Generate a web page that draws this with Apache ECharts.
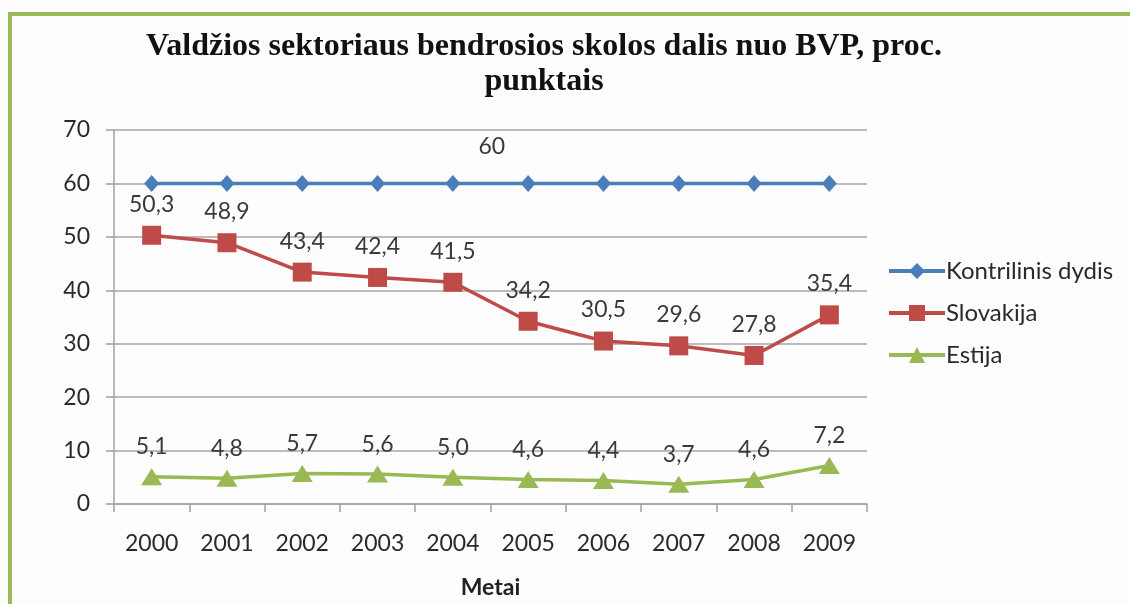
<!DOCTYPE html>
<html>
<head>
<meta charset="utf-8">
<script src="https://cdn.jsdelivr.net/npm/echarts@6/dist/echarts.min.js"></script>
<style>
html,body{margin:0;padding:0;background:#fdfdfd;}
#c{width:1130px;height:604px;}
</style>
</head>
<body>
<div id="c"></div>
<script>
const years = ['2000','2001','2002','2003','2004','2005','2006','2007','2008','2009'];
const kontrilinis = [60,60,60,60,60,60,60,60,60,60];
const slovakija = [50.3,48.9,43.4,42.4,41.5,34.2,30.5,29.6,27.8,35.4];
const estija = [5.1,4.8,5.7,5.6,5.0,4.6,4.4,3.7,4.6,7.2];
const seriesNames = ['Kontrilinis dydis','Slovakija','Estija'];
const yTicks = {min:0, max:70, interval:10};
const kontrilinisLabelIndex = 4;

const fmt = p => p.value.toFixed(1).replace('.', ',');
const F = 'Lato, "Open Sans", sans-serif';
const labelStyle = {show:true, position:'top', distance:10, fontFamily:F, fontSize:23, color:'#3a3a3a', formatter:fmt};

const chart = echarts.init(document.getElementById('c'));
chart.setOption({
  backgroundColor:'#fdfdfd',
  animation:false,
  title:{
    text:'Valdžios sektoriaus bendrosios skolos dalis nuo BVP, proc.\npunktais',
    left:544, top:29, textAlign:'center', padding:0,
    textStyle:{fontFamily:'"Liberation Serif", serif', fontWeight:'bold', fontSize:32, lineHeight:35, color:'#111'}
  },
  legend:{
    orient:'vertical', left:882, top:254, itemWidth:56, itemHeight:20, itemGap:18,
    data:seriesNames,
    lineStyle:{width:4},
    textStyle:{fontFamily:F, fontSize:24, color:'#2a2a2a', padding:[0,0,0,-4]}
  },
  grid:{left:114, right:263, top:130, bottom:100, containLabel:false, outerBoundsMode:'none'},
  xAxis:{
    type:'category', data:years, boundaryGap:true,
    name:'Metai', nameLocation:'middle', nameGap:72,
    nameTextStyle:{fontFamily:F, fontSize:23, fontWeight:'bold', color:'#222'},
    axisLine:{lineStyle:{color:'#a0a0a0', width:1.5}},
    axisTick:{show:true, length:8, alignWithLabel:false, interval:0, lineStyle:{color:'#a0a0a0', width:1.5}},
    axisLabel:{margin:28, fontFamily:F, fontSize:23, color:'#2a2a2a', interval:0}
  },
  yAxis:{
    type:'value', min:yTicks.min, max:yTicks.max, interval:yTicks.interval,
    axisLine:{show:true, lineStyle:{color:'#a0a0a0', width:1.5}},
    axisTick:{show:true, length:8, lineStyle:{color:'#a0a0a0', width:1.5}},
    splitLine:{show:true, lineStyle:{color:'#a6a6a6', width:1.5}},
    axisLabel:{margin:24, fontFamily:F, fontSize:23, color:'#2a2a2a'}
  },
  series:[
    {name:seriesNames[0], type:'line', data:kontrilinis.map((v,i)=> i===kontrilinisLabelIndex ? {value:v, label:{show:true, offset:[39,-7]}} : v),
     symbol:'diamond', symbolSize:[15,17], itemStyle:{color:'#4a7ebb'}, lineStyle:{color:'#4a7ebb', width:3.5},
     label:Object.assign({}, labelStyle, {show:false, formatter:p=>String(p.value)})},
    {name:seriesNames[1], type:'line', data:slovakija,
     symbol:'rect', symbolSize:19, itemStyle:{color:'#be4b48'}, lineStyle:{color:'#be4b48', width:3.5},
     label:labelStyle},
    {name:seriesNames[2], type:'line', data:estija,
     symbol:'triangle', symbolSize:[21,17], itemStyle:{color:'#98b954'}, lineStyle:{color:'#98b954', width:3.5},
     label:labelStyle}
  ],
  graphic:[
    {type:'line', shape:{x1:8, y1:14, x2:1130, y2:14}, style:{stroke:'#9bbb59', lineWidth:4}, z:10},
    {type:'line', shape:{x1:10, y1:12, x2:10, y2:604}, style:{stroke:'#9bbb59', lineWidth:4}, z:10}
  ]
});
</script>
</body>
</html>
